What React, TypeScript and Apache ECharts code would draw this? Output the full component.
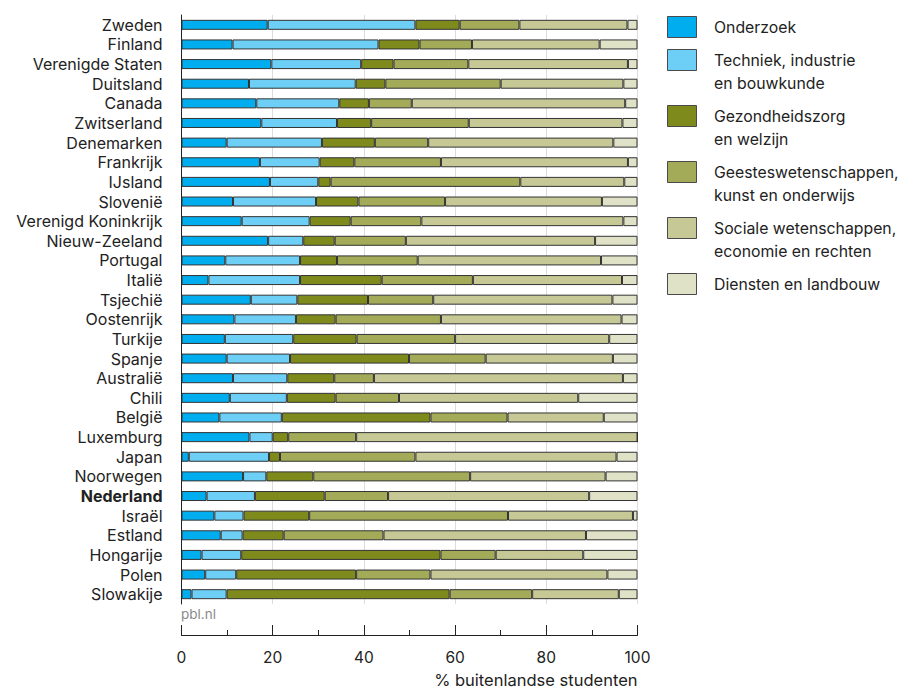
import React, { useEffect, useRef } from "react";
import * as echarts from "echarts";

const countries = [
  "Zweden", "Finland", "Verenigde Staten", "Duitsland", "Canada", "Zwitserland",
  "Denemarken", "Frankrijk", "IJsland", "Slovenië", "Verenigd Koninkrijk",
  "Nieuw-Zeeland", "Portugal", "Italië", "Tsjechië", "Oostenrijk", "Turkije",
  "Spanje", "Australië", "Chili", "België", "Luxemburg", "Japan", "Noorwegen",
  "Nederland", "Israël", "Estland", "Hongarije", "Polen", "Slowakije",
];

const onderzoek = [18.9, 11.2, 19.7, 14.8, 16.4, 17.5, 9.9, 17.2, 19.4, 11.3, 13.2, 19.0, 9.6, 5.9, 15.2, 11.6, 9.5, 9.9, 11.3, 10.6, 8.3, 14.9, 1.6, 13.5, 5.5, 7.2, 8.6, 4.4, 5.2, 2.2];
const techniek = [32.4, 32.0, 19.7, 23.4, 18.2, 16.6, 20.9, 13.1, 10.6, 18.2, 14.9, 7.7, 16.4, 20.1, 10.2, 13.5, 15.0, 13.9, 11.9, 12.5, 13.7, 5.1, 17.6, 5.1, 10.6, 6.4, 4.8, 8.7, 6.8, 7.7];
const gezondheid = [9.7, 9.0, 7.1, 6.5, 6.5, 7.5, 11.6, 7.6, 2.7, 9.3, 9.0, 6.9, 8.1, 17.9, 15.5, 8.7, 13.9, 26.1, 10.3, 10.7, 32.6, 3.4, 2.4, 10.3, 15.3, 14.4, 9.0, 43.7, 26.3, 48.9];
const geestes = [13.1, 11.5, 16.4, 25.3, 9.4, 21.4, 11.7, 19.0, 41.6, 19.0, 15.5, 15.6, 17.7, 20.0, 14.3, 23.1, 21.6, 16.8, 8.7, 13.9, 16.9, 14.9, 29.7, 34.4, 13.9, 43.6, 21.9, 12.1, 16.3, 18.1];
const sociale = [23.7, 28.0, 35.0, 26.9, 46.8, 33.7, 40.6, 41.0, 22.8, 34.4, 44.3, 41.5, 40.2, 32.7, 39.3, 39.6, 33.8, 27.9, 54.6, 39.3, 21.1, 61.7, 44.1, 29.7, 44.1, 27.4, 44.4, 19.2, 38.8, 19.0];
const diensten = [2.2, 8.3, 2.1, 3.1, 2.7, 3.3, 5.3, 2.1, 2.9, 7.8, 3.1, 9.3, 8.0, 3.4, 5.5, 3.5, 6.2, 5.4, 3.2, 13.0, 7.4, 0, 4.6, 7.0, 10.6, 1.0, 11.3, 11.9, 6.6, 4.1];

const seriesNames = [
  "Onderzoek",
  "Techniek, industrie\nen bouwkunde",
  "Gezondheidszorg\nen welzijn",
  "Geesteswetenschappen,\nkunst en onderwijs",
  "Sociale wetenschappen,\neconomie en rechten",
  "Diensten en landbouw",
];
const seriesData = [onderzoek, techniek, gezondheid, geestes, sociale, diensten];
const colors = ["#00aeef", "#6dcff6", "#7f8a1c", "#a3aa58", "#c6c996", "#dfe2c6"];

const xTicks = [0, 20, 40, 60, 80, 100];
const axisTitle = "% buitenlandse studenten";
const sourceText = "pbl.nl";

const FONT = "Inter, 'Open Sans', sans-serif";

export default function App() {
  const ref = useRef<HTMLDivElement>(null);
  useEffect(() => {
    document.body.style.margin = "0";
    if (!ref.current) return;
    const chart = echarts.init(ref.current, null, { renderer: "svg" });

    const legendGraphics: any[] = [];
    let top = 16;
    seriesNames.forEach((name, i) => {
      const lines = name.split("\n").length;
      legendGraphics.push({
        type: "rect",
        shape: { x: 667.5, y: top + 0.5, width: 29, height: 21 },
        style: { fill: colors[i], stroke: "#4a4a4a", lineWidth: 1 },
      });
      legendGraphics.push({
        type: "text",
        x: 714,
        y: top - 0.5,
        style: {
          text: name,
          font: `15.8px ${FONT}`,
          fill: "#222",
          lineHeight: 23,
          textVerticalAlign: "top",
        },
      });
      top += lines * 23 + 10;
    });

    chart.setOption({
      animation: false,
      textStyle: { fontFamily: FONT },
      grid: { left: 181.5, right: 263.5, top: 15, height: 589 },
      xAxis: {
        type: "value",
        min: xTicks[0],
        max: xTicks[xTicks.length - 1],
        interval: 20,
        position: "bottom",
        offset: 31,
        axisLine: { show: true, lineStyle: { color: "#222", width: 1 } },
        axisTick: { show: true, inside: true, length: 10, lineStyle: { color: "#222" } },
        minorTick: { show: true, splitNumber: 2, length: 5, lineStyle: { color: "#222" } },
        axisLabel: { color: "#222", fontSize: 15.5, margin: 14, fontFamily: FONT },
        splitLine: { show: true, lineStyle: { color: "#dcdcdc", width: 1 } },
        name: axisTitle,
        nameLocation: "end",
        nameGap: 0,
        nameTextStyle: {
          align: "right",
          verticalAlign: "top",
          padding: [36, 0, 0, 0],
          color: "#222",
          fontSize: 16.5,
          fontFamily: FONT,
        },
      },
      yAxis: {
        type: "category",
        data: countries,
        inverse: true,
        axisLine: { show: true, lineStyle: { color: "#222", width: 1 } },
        axisTick: { show: false },
        axisLabel: {
          interval: 0,
          color: "#222",
          fontSize: 16,
          lineHeight: 18,
          margin: 19,
          fontFamily: FONT,
          formatter: (v: string) => (v === "Nederland" ? `{b|${v}}` : v),
          rich: {
            b: { fontWeight: "bold", fontSize: 16, lineHeight: 18, color: "#222", fontFamily: FONT },
          },
        },
        splitLine: { show: false },
      },
      series: seriesNames.map((name, i) => ({
        name,
        type: "bar",
        stack: "total",
        barWidth: 10,
        data: seriesData[i],
        itemStyle: { color: colors[i], borderColor: "#333", borderWidth: 1 },
        emphasis: { disabled: true },
      })),
      graphic: [
        {
          type: "text",
          x: 181,
          y: 614,
          style: {
            text: sourceText,
            font: `13.5px ${FONT}`,
            fill: "#8a8a8a",
            textVerticalAlign: "middle",
          },
        },
        ...legendGraphics,
      ],
    });
    return () => chart.dispose();
  }, []);
  return <div ref={ref} style={{ width: 901, height: 690 }} />;
}
